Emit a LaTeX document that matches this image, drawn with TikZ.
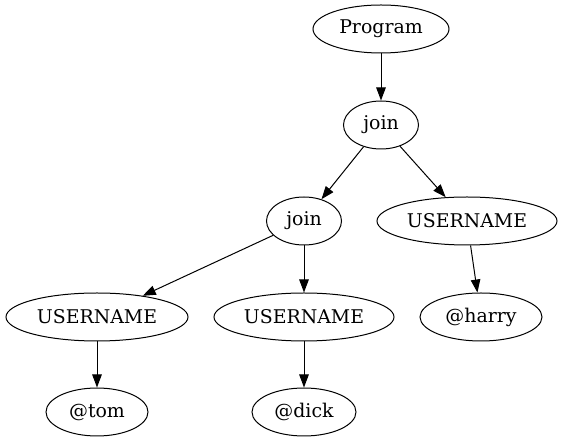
\documentclass[tikz,border=0pt]{standalone}
\usepackage{fontspec}
\setmainfont{DejaVu Serif}
\usetikzlibrary{shapes.geometric,arrows.meta}
\begin{document}
\begin{tikzpicture}[x=1pt,y=-1pt,
  gnode/.style={draw,ellipse,line width=1pt,inner sep=0pt,minimum height=48pt,font=\fontsize{18.9}{22}\selectfont},
  edge/.style={draw,line width=1pt,-{Triangle[length=13pt,width=9.5pt]}}]
\useasboundingbox (0,0) rectangle (566,443);
\node[gnode,minimum width=136pt] (prog) at (381,29) {Program};
\node[gnode,minimum width=75pt] (j1) at (381,125) {join};
\node[gnode,minimum width=75pt] (j2) at (304,221) {join};
\node[gnode,minimum width=180pt] (ur) at (467,221) {USERNAME};
\node[gnode,minimum width=182pt] (ul) at (97,317) {USERNAME};
\node[gnode,minimum width=180pt] (um) at (304,317) {USERNAME};
\node[gnode,minimum width=122pt] (harry) at (481,317) {@harry};
\node[gnode,minimum width=102pt] (tom) at (97,412) {@tom};
\node[gnode,minimum width=104pt] (dick) at (304,412) {@dick};
\draw[edge] (prog) -- (j1);
\draw[edge] (j1) -- (j2);
\draw[edge] (j1) -- (ur);
\draw[edge] (j2) -- (ul);
\draw[edge] (j2) -- (um);
\draw[edge] (ur) -- (harry);
\draw[edge] (ul) -- (tom);
\draw[edge] (um) -- (dick);
\end{tikzpicture}
\end{document}
